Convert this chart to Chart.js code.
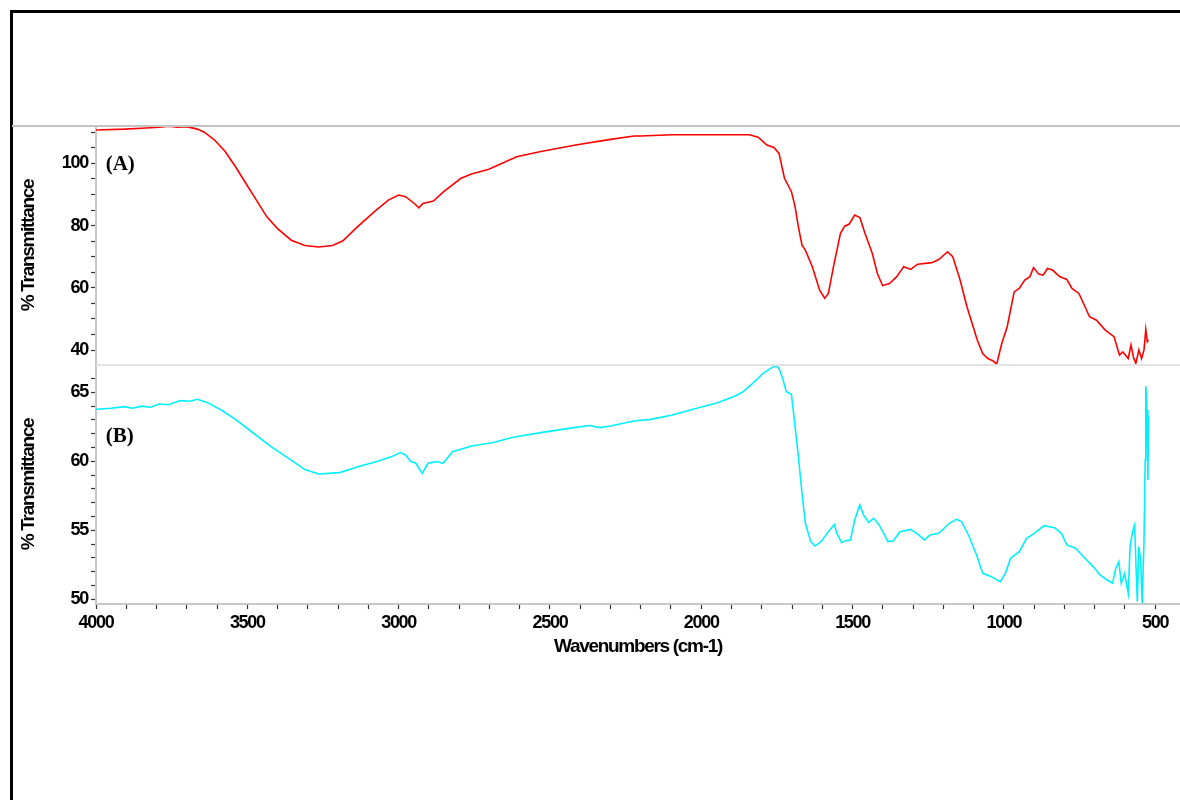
<!DOCTYPE html>
<html>
<head>
<meta charset="utf-8">
<script src="https://cdn.jsdelivr.net/npm/chart.js@4.4.1/dist/chart.umd.min.js"></script>
<style>
  html, body { margin: 0; padding: 0; background: #fff; }
  body { width: 1180px; height: 800px; overflow: hidden; position: relative; }
  #frame { position: absolute; left: 10px; top: 10px; width: 1200px; height: 820px; border: 3px solid #000; box-sizing: border-box; }
  #wrap { position: absolute; left: 0; top: 0; width: 1180px; height: 800px; }
</style>
</head>
<body>
<div id="frame"></div>
<div id="wrap"><canvas id="chart"></canvas></div>
<script>
// spectrum (A) - red
const wavenumbersA = [4000, 3906, 3850, 3791, 3760, 3730, 3700, 3665, 3642, 3608, 3573, 3539, 3505, 3470, 3436, 3401, 3355, 3310, 3264, 3218, 3184, 3138, 3080, 3034, 3000, 2977, 2948, 2933, 2920, 2885, 2851, 2794, 2759, 2702, 2610, 2530, 2415, 2300, 2222, 2200, 2096, 2003, 1841, 1812, 1783, 1760, 1743, 1725, 1702, 1690, 1679, 1667, 1656, 1633, 1609, 1592, 1580, 1563, 1540, 1526, 1511, 1493, 1476, 1459, 1435, 1418, 1401, 1378, 1354, 1331, 1308, 1285, 1238, 1215, 1186, 1169, 1146, 1122, 1105, 1088, 1070, 1053, 1035, 1024, 1007, 989, 966, 949, 931, 914, 902, 885, 870, 856, 839, 816, 792, 775, 752, 717, 694, 665, 636, 618, 607, 589, 580, 572, 564, 554, 545, 537, 531, 526, 522];
const transmittanceA = [110.7, 111.0, 111.3, 111.6, 111.9, 111.6, 111.8, 111.0, 110.0, 107.5, 103.8, 98.9, 93.6, 88.2, 82.9, 79.1, 75.3, 73.6, 73.1, 73.6, 75.1, 79.4, 84.5, 88.2, 89.8, 89.3, 87.1, 85.7, 87.1, 87.9, 90.9, 95.2, 96.6, 98.1, 102.1, 103.8, 105.9, 107.7, 108.8, 108.8, 109.2, 109.2, 109.2, 108.4, 105.9, 105.1, 103.2, 95.2, 90.9, 86.1, 79.6, 73.7, 72.1, 66.8, 59.3, 56.6, 58.2, 66.8, 77.5, 79.8, 80.5, 83.4, 82.6, 77.5, 71.1, 64.6, 60.7, 61.4, 63.6, 66.8, 65.9, 67.6, 68.1, 69.1, 71.6, 70.0, 63.0, 53.9, 48.6, 43.2, 38.9, 37.3, 36.5, 35.4, 42.1, 47.5, 58.7, 59.8, 62.5, 63.6, 66.5, 64.4, 64.1, 66.2, 65.7, 63.6, 62.7, 59.8, 58.2, 50.7, 49.6, 46.4, 44.3, 38.4, 39.4, 37.3, 41.6, 37.8, 35.7, 40.0, 37.3, 40.0, 46.6, 42.7, 43.2];

// spectrum (B) - cyan
const wavenumbersB = [4000, 3950, 3906, 3880, 3849, 3820, 3791, 3760, 3722, 3690, 3665, 3631, 3585, 3539, 3493, 3424, 3356, 3310, 3264, 3195, 3126, 3069, 3023, 2994, 2977, 2960, 2943, 2922, 2903, 2874, 2853, 2822, 2759, 2690, 2622, 2530, 2438, 2369, 2335, 2300, 2222, 2166, 2096, 2027, 1946, 1888, 1864, 1830, 1795, 1766, 1754, 1743, 1731, 1719, 1702, 1690, 1679, 1667, 1656, 1638, 1624, 1604, 1580, 1560, 1552, 1536, 1523, 1507, 1493, 1476, 1464, 1447, 1430, 1412, 1383, 1366, 1343, 1308, 1285, 1262, 1244, 1215, 1180, 1157, 1140, 1117, 1088, 1070, 1041, 1012, 995, 978, 949, 925, 896, 867, 833, 810, 792, 763, 729, 705, 682, 659, 641, 630, 620, 612, 601, 589, 583, 575, 568, 564, 559, 554, 548, 543, 537, 533, 531, 527, 524, 522];
const transmittanceB = [63.77, 63.85, 63.96, 63.85, 64.0, 63.92, 64.15, 64.1, 64.4, 64.35, 64.5, 64.25, 63.7, 63.04, 62.27, 61.1, 60.1, 59.4, 59.08, 59.18, 59.66, 60.0, 60.34, 60.63, 60.46, 59.98, 59.86, 59.13, 59.86, 59.98, 59.86, 60.7, 61.11, 61.35, 61.74, 62.08, 62.39, 62.6, 62.44, 62.56, 62.92, 63.04, 63.36, 63.77, 64.25, 64.73, 65.0, 65.65, 66.38, 66.81, 66.91, 66.74, 66.01, 65.05, 64.86, 62.51, 60.34, 57.68, 55.51, 54.18, 53.86, 54.18, 54.9, 55.43, 54.78, 54.1, 54.25, 54.3, 55.75, 56.84, 56.11, 55.58, 55.87, 55.39, 54.18, 54.23, 54.9, 55.07, 54.73, 54.3, 54.66, 54.78, 55.51, 55.8, 55.63, 54.66, 53.09, 51.88, 51.64, 51.28, 51.88, 52.97, 53.45, 54.42, 54.83, 55.34, 55.19, 54.78, 53.94, 53.7, 52.9, 52.37, 51.76, 51.4, 51.16, 52.25, 52.73, 51.16, 51.88, 50.43, 53.82, 54.9, 55.39, 52.85, 49.83, 53.82, 52.85, 49.71, 54.18, 60.1, 65.46, 63.72, 58.65, 63.24];

// axes
const xRange = [418, 4000];
const xMajorTicks = [4000, 3500, 3000, 2500, 2000, 1500, 1000, 500];
const xMinorStep = 100;
const yRangeA = [35.2, 112.0];
const yMajorTicksA = [40, 60, 80, 100];
const yMinorStepA = 5;
const yRangeB = [49.66, 66.98];
const yMajorTicksB = [50, 55, 60, 65];
const yMinorStepB = 1;

const xTitle = 'Wavenumbers (cm-1)';
const yTitle = '% Transmittance';
const panelLabels = ['(A)', '(B)'];
const panelLabelPosA = [3968, 99.7];
const panelLabelPosB = [3968, 61.8];

const tickFont = { family: "'Liberation Sans', Arial, sans-serif", size: 18, weight: 'bold' };
const titleFont = { family: "'Liberation Sans', Arial, sans-serif", size: 19, weight: 'bold' };

function stepTicks(range, step) {
  const out = [];
  const start = Math.ceil(range[0] / step) * step;
  for (let v = start; v <= range[1] + 1e-9; v += step) out.push({ value: Math.round(v * 1000) / 1000 });
  return out;
}

function toPoints(xs, ys) {
  return xs.map((x, i) => ({ x: x, y: ys[i] }));
}

const gridOpts = {
  display: true,
  drawOnChartArea: false,
  drawTicks: true,
  tickLength: 5,
  tickColor: '#333',
  tickWidth: 1.2
};
const borderOpts = { display: true, color: '#c8c8c8', width: 2 };

function yScale(range, major, step) {
  return {
    type: 'linear',
    position: 'left',
    stack: 'panels',
    stackWeight: 1,
    min: range[0],
    max: range[1],
    grid: gridOpts,
    border: borderOpts,
    afterBuildTicks: s => { s.ticks = stepTicks(range, step); },
    afterFit: s => { s.width = 96; },
    ticks: {
      autoSkip: false,
      padding: 3,
      color: '#000',
      font: tickFont,
      callback: v => major.includes(v) ? String(v) : ''
    },
    title: { display: true, text: yTitle, color: '#000', font: titleFont, padding: { top: 17, bottom: 0 } }
  };
}

// squeeze the axis lettering a bit, the original uses a condensed face
const condensePlugin = {
  id: 'condense',
  beforeLayout(chart) { chart.ctx.letterSpacing = '-1.3px'; },
  beforeDraw(chart) { chart.ctx.letterSpacing = '-1.3px'; }
};

const decorPlugin = {
  id: 'decor',
  afterDraw(chart) {
    const { ctx, chartArea, scales } = chart;
    ctx.save();
    ctx.letterSpacing = '0px';
    // frame line along the top of the plot
    ctx.strokeStyle = '#c4c4c4';
    ctx.lineWidth = 2;
    ctx.beginPath();
    ctx.moveTo(12, chartArea.top);
    ctx.lineTo(chart.width, chartArea.top);
    ctx.stroke();
    // separator between the two panels
    ctx.strokeStyle = '#e2e2e2';
    ctx.beginPath();
    ctx.moveTo(chartArea.left, scales.yB.top);
    ctx.lineTo(chartArea.right, scales.yB.top);
    ctx.stroke();
    // panel labels
    ctx.font = "bold 21px 'Liberation Serif', 'Times New Roman', serif";
    ctx.fillStyle = '#000';
    ctx.textBaseline = 'middle';
    ctx.textAlign = 'left';
    ctx.fillText(panelLabels[0], scales.x.getPixelForValue(panelLabelPosA[0]), scales.yA.getPixelForValue(panelLabelPosA[1]));
    ctx.fillText(panelLabels[1], scales.x.getPixelForValue(panelLabelPosB[0]), scales.yB.getPixelForValue(panelLabelPosB[1]));
    ctx.restore();
  }
};

new Chart(document.getElementById('chart'), {
  type: 'line',
  data: {
    datasets: [
      {
        label: 'A',
        data: toPoints(wavenumbersA, transmittanceA),
        yAxisID: 'yA',
        borderColor: '#ff0000',
        borderWidth: 1.6,
        pointRadius: 0,
        tension: 0,
        fill: false
      },
      {
        label: 'B',
        data: toPoints(wavenumbersB, transmittanceB),
        yAxisID: 'yB',
        borderColor: '#00f0ff',
        borderWidth: 1.6,
        pointRadius: 0,
        tension: 0,
        fill: false
      }
    ]
  },
  options: {
    responsive: true,
    maintainAspectRatio: false,
    animation: false,
    layout: { padding: { top: 126, left: 0, right: 0, bottom: 136 } },
    plugins: { legend: { display: false }, tooltip: { enabled: false } },
    scales: {
      x: {
        type: 'linear',
        position: 'bottom',
        reverse: true,
        min: xRange[0],
        max: xRange[1],
        grid: gridOpts,
        border: borderOpts,
        afterBuildTicks: s => { s.ticks = stepTicks([500, 4000], xMinorStep); },
        afterFit: s => { s.height = 60; },
        ticks: {
          autoSkip: false,
          maxRotation: 0,
          padding: 3,
          color: '#000',
          font: tickFont,
          callback: v => xMajorTicks.includes(v) ? String(v) : ''
        },
        title: { display: true, text: xTitle, color: '#000', font: titleFont, padding: { top: 0, bottom: 6 } }
      },
      yB: yScale(yRangeB, yMajorTicksB, yMinorStepB),
      yA: yScale(yRangeA, yMajorTicksA, yMinorStepA)
    }
  },
  plugins: [condensePlugin, decorPlugin]
});
</script>
</body>
</html>
